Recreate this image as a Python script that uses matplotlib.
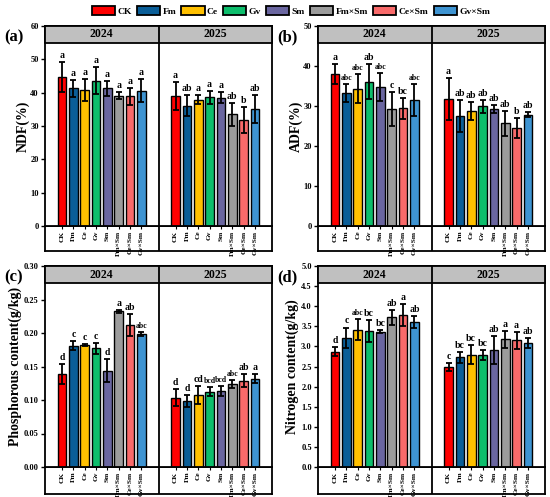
import matplotlib
matplotlib.use("Agg")
import matplotlib.pyplot as plt
from matplotlib.patches import Patch, Rectangle
import matplotlib.transforms as mtransforms
import numpy as np

plt.rcParams['font.family'] = ['Liberation Serif', 'DejaVu Serif']
plt.rcParams['font.weight'] = 'bold'

treatments = ['CK', 'Fm', 'Ce', 'Gv', 'Sm', 'Fm×Sm', 'Ce×Sm', 'Gv×Sm']
colors = ['#FF0000', '#0A5E98', '#FFC000', '#0DBE6C', '#6A66A0', '#9C9C9C', '#F96A6A', '#3E94D2']
years = ['2024', '2025']

# NDF (%)
ndf_2024 = [44.8, 41.3, 40.8, 43.6, 41.3, 39.1, 38.9, 40.6]
ndf_2024_err = [4.5, 2.5, 3.3, 4.0, 2.2, 1.1, 2.5, 3.4]
ndf_2024_sig = ['a', 'a', 'a', 'a', 'a', 'a', 'a', 'a']
ndf_2025 = [39.1, 36.1, 37.9, 38.6, 38.5, 33.5, 31.9, 35.1]
ndf_2025_err = [4.2, 3.1, 1.3, 1.9, 1.6, 3.5, 3.9, 4.1]
ndf_2025_sig = ['a', 'ab', 'a', 'a', 'a', 'ab', 'b', 'ab']

# ADF (%)
adf_2024 = [38.1, 33.25, 34.3, 36.1, 34.75, 29.25, 29.4, 31.4]
adf_2024_err = [2.5, 2.25, 3.6, 4.3, 3.4, 4.2, 2.7, 4.0]
adf_2024_sig = ['a', 'abc', 'abc', 'ab', 'abc', 'c', 'bc', 'abc']
adf_2025 = [31.75, 27.5, 28.75, 29.9, 29.25, 25.7, 24.5, 27.8]
adf_2025_err = [5.3, 3.9, 2.2, 1.6, 1.0, 3.1, 2.45, 0.6]
adf_2025_sig = ['a', 'ab', 'ab', 'ab', 'ab', 'ab', 'b', 'ab']

# Phosphorous content (g/kg)
p_2024 = [0.1387, 0.181, 0.182, 0.177, 0.144, 0.2327, 0.212, 0.1985]
p_2024_err = [0.0145, 0.007, 0.002, 0.008, 0.017, 0.0023, 0.016, 0.0035]
p_2024_sig = ['d', 'c', 'c', 'c', 'd', 'a', 'ab', 'abc']
p_2025 = [0.1035, 0.0985, 0.107, 0.1126, 0.1136, 0.1236, 0.129, 0.132]
p_2025_err = [0.0128, 0.009, 0.0135, 0.0073, 0.0073, 0.0063, 0.0093, 0.0063]
p_2025_sig = ['d', 'd', 'cd', 'bcd', 'bcd', 'abc', 'ab', 'a']

# Nitrogen content (g/kg)
n_2024 = [2.87, 3.22, 3.42, 3.38, 3.37, 3.72, 3.78, 3.61]
n_2024_err = [0.12, 0.25, 0.26, 0.27, 0.03, 0.18, 0.27, 0.14]
n_2024_sig = ['d', 'c', 'abc', 'bc', 'bc', 'ab', 'a', 'ab']
n_2025 = [2.48, 2.73, 2.79, 2.78, 2.91, 3.175, 3.15, 3.08]
n_2025_err = [0.10, 0.135, 0.24, 0.12, 0.35, 0.22, 0.21, 0.12]
n_2025_sig = ['c', 'bc', 'bc', 'bc', 'ab', 'a', 'a', 'ab']

W, H = 550, 497
fig = plt.figure(figsize=(W / 100, H / 100), dpi=100)

LW = 1.3


def make_panel(px, label, ylabel, ymax, ystep, fmt, v24, e24, s24, v25, e25, s25,
               ylabel_x, letter_off):
    l, r, top, y0, bot = px
    axb = fig.add_axes([l / W, 1 - bot / H, (r - l) / W, (bot - y0) / H])
    axb.set_xlim(0, 20)
    axb.set_ylim(0, 1)
    axb.set_xticks([])
    axb.set_yticks([])
    for s in axb.spines.values():
        s.set_linewidth(LW)
    axb.axvline(10, color='black', lw=LW)

    ax = fig.add_axes([l / W, 1 - y0 / H, (r - l) / W, (y0 - top) / H])
    ax.set_xlim(0, 20)
    ax.set_ylim(0, ymax)
    for s in ax.spines.values():
        s.set_linewidth(LW)

    n = len(treatments)
    offsets = [1.5, 11.5]
    all_x = []
    for yi, (vals, errs, sigs) in enumerate([(v24, e24, s24), (v25, e25, s25)]):
        x = np.arange(n) + offsets[yi]
        all_x.extend(x)
        ax.bar(x, vals, width=0.77, color=colors, edgecolor='black', linewidth=1.0, zorder=2)
        ax.errorbar(x, vals, yerr=errs, fmt='none', ecolor='black', elinewidth=1.3,
                    capsize=2.2, capthick=1.3, zorder=3)
        for xi, v, e, sg in zip(x, vals, errs, sigs):
            ax.text(xi, v + e + letter_off, sg, ha='center', va='bottom',
                    fontsize=7 if len(sg) <= 2 else 5.6, fontweight='bold')

    # strip header
    sh = 0.085
    ax.add_patch(Rectangle((0, 1 - sh), 1, sh, transform=ax.transAxes,
                           facecolor='#C0C0C0', edgecolor='black', lw=LW, zorder=4,
                           clip_on=False))
    ax.axvline(10, color='black', lw=LW, zorder=5)
    trans = mtransforms.blended_transform_factory(ax.transData, ax.transAxes)
    for xc, yr in zip([5, 15], years):
        ax.text(xc, 1 - sh / 2, yr, transform=trans, ha='center', va='center',
                fontsize=8.5, fontweight='bold', zorder=6)

    yt = np.arange(0, ymax + ystep / 2, ystep)
    ax.set_yticks(yt)
    ax.set_yticklabels([fmt.format(v) for v in yt])
    ax.tick_params(axis='y', direction='out', length=3, width=1.0, labelsize=6, pad=1.5)
    ax.set_xticks(all_x)
    ax.set_xticklabels(treatments * 2, rotation=90)
    ax.tick_params(axis='x', direction='out', length=2, width=0.8, labelsize=5.3, pad=1.5)
    for t in ax.get_xticklabels() + ax.get_yticklabels():
        t.set_fontweight('bold')

    fig.text(ylabel_x / W, 1 - ((top + y0) / 2) / H, ylabel, rotation=90,
             ha='center', va='center', fontsize=10, fontweight='bold')
    fig.text((l - 31) / W, 1 - (top + 11) / H, label, ha='center', va='center',
             fontsize=12, fontweight='bold')
    return ax


make_panel((45, 272, 26, 226, 251), '(a)', 'NDF(%)', 60, 10, '{:.0f}',
           ndf_2024, ndf_2024_err, ndf_2024_sig, ndf_2025, ndf_2025_err, ndf_2025_sig,
           23, 0.6)
make_panel((318, 545, 26, 226, 251), '(b)', 'ADF(%)', 50, 10, '{:.0f}',
           adf_2024, adf_2024_err, adf_2024_sig, adf_2025, adf_2025_err, adf_2025_sig,
           296, 0.5)
make_panel((45, 272, 266, 467, 494), '(c)', 'Phosphorous content(g/kg)', 0.30, 0.05, '{:.2f}',
           p_2024, p_2024_err, p_2024_sig, p_2025, p_2025_err, p_2025_sig,
           15, 0.003)
make_panel((318, 545, 266, 467, 494), '(d)', 'Nitrogen content(g/kg)', 5.0, 0.5, '{:.1f}',
           n_2024, n_2024_err, n_2024_sig, n_2025, n_2025_err, n_2025_sig,
           292, 0.05)

handles = [Patch(facecolor=c, edgecolor='black', linewidth=1.3) for c in colors]
fig.legend(handles, treatments, loc='center', bbox_to_anchor=(291 / W, 1 - 11 / H),
           ncol=8, frameon=False, handlelength=2.45, handleheight=1.1,
           handletextpad=0.25, columnspacing=0.55, borderaxespad=0.0, borderpad=0.0,
           prop={'weight': 'bold', 'size': 6.8})

fig.savefig('out.png', dpi=100)
